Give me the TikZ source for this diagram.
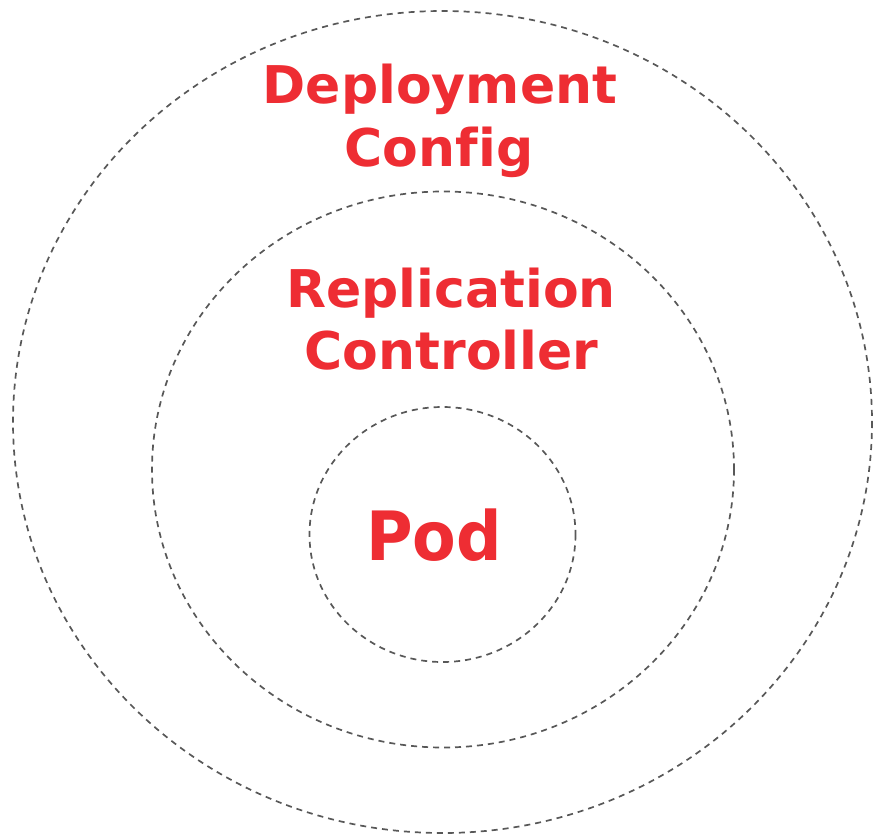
\documentclass[tikz,border=0pt]{standalone}
\usepackage{fontspec}
\setmainfont{DejaVu Sans}[Ligatures=NoCommon]
\definecolor{labelred}{HTML}{EE2D33}
\definecolor{ringgray}{HTML}{585858}
\begin{document}
\begin{tikzpicture}[x=1pt,y=-1pt,
  ring/.style={draw=ringgray,line width=1.7pt,dash pattern=on 6pt off 5pt},
  title/.style={text=labelred,font=\fontsize{52}{62}\selectfont\bfseries,inner sep=0pt,anchor=base},
  core/.style={text=labelred,font=\fontsize{68}{80}\selectfont\bfseries,inner sep=0pt,anchor=base}]
  \useasboundingbox (0,0) rectangle (875,838);
  % nested scopes: deployment config > replication controller > pod
  \draw[ring] (442.5,422) ellipse [x radius=429.5,y radius=411];
  \draw[ring] (443,469.5) ellipse [x radius=291,y radius=278];
  \draw[ring] (442.5,534.5) ellipse [x radius=133,y radius=127.5];
  \node[title] (dc1) at (440,103) {Deployment};
  \node[title] (dc2) at (439,166) {Config};
  \node[title] (rc1) at (451,307) {Replication};
  \node[title] (rc2) at (451.5,369) {Controller};
  \node[core] (pod) at (434,560) {\scalebox{0.935}[1]{Pod}};
\end{tikzpicture}
\end{document}
